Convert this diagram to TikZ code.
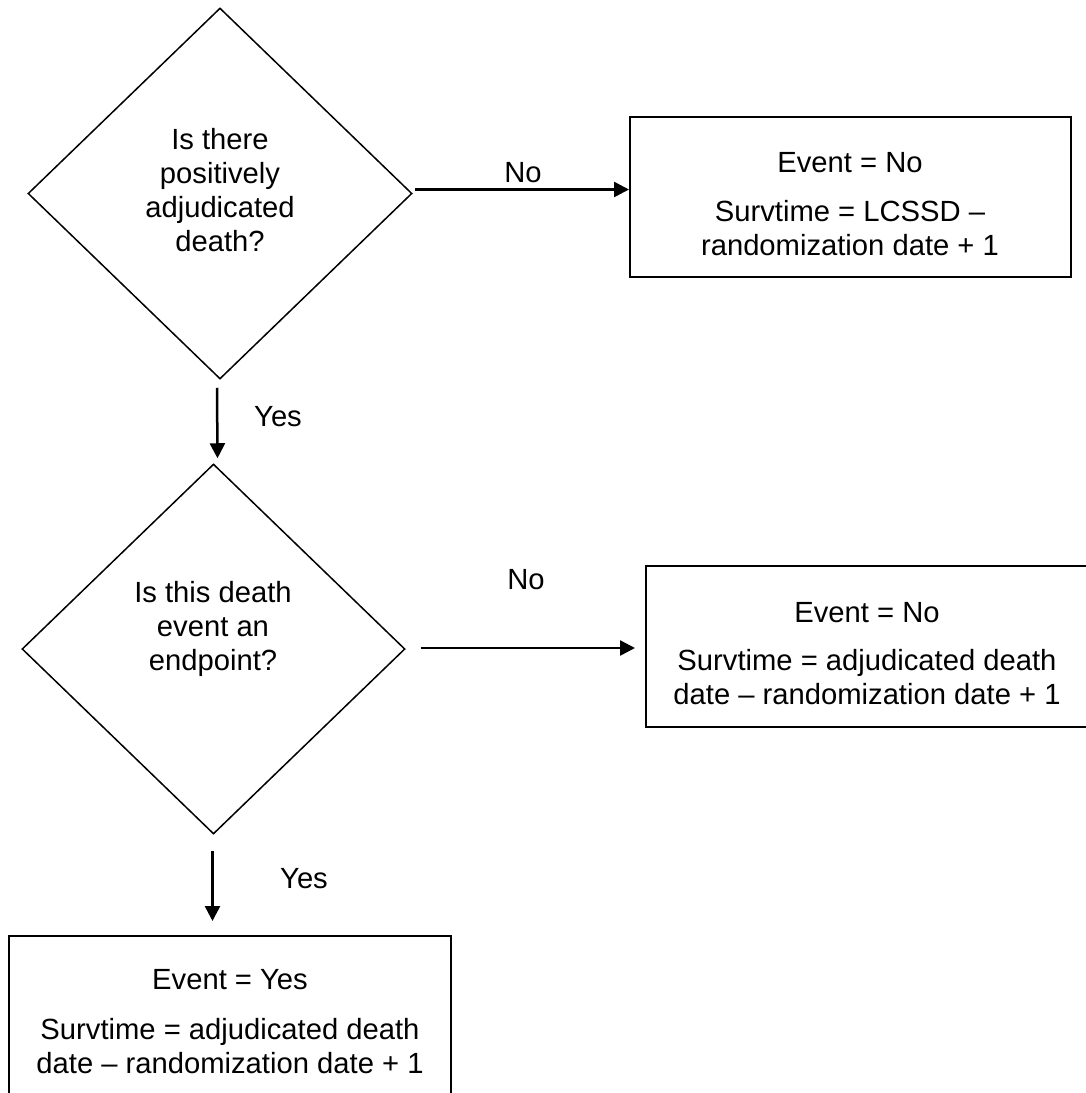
\documentclass[tikz,border=0pt]{standalone}
\usepackage{fontspec}
\setmainfont{Liberation Sans}
\usetikzlibrary{shapes.geometric,arrows.meta,calc}
\begin{document}
\begin{tikzpicture}[x=1pt,y=-1pt,
  lbl/.style={font=\fontsize{29.2}{34}\selectfont, inner sep=0pt, align=center},
  decision/.style={diamond, draw, line width=1.5pt, inner sep=0pt},
  outbox/.style={rectangle, draw, line width=2pt, inner sep=0pt},
  arr/.style={line width=2.5pt, -{Triangle[length=15pt,width=15pt]}}]
\clip (0,0) rectangle (1086,1093);
\fill[white] (0,0) rectangle (1086,1093);
% decisions
\node[decision, minimum width=384, minimum height=371] (d1) at (220,193.5) {};
\node[lbl] (d1t) at (220,190) {Is there\\positively\\adjudicated\\death?};
\node[decision, minimum width=383, minimum height=370] (d2) at (213.5,649) {};
\node[lbl] (d2t) at (213,629) {Is this death\\event an\\endpoint?};
% outcome boxes
\node[outbox, minimum width=441, minimum height=160] (b1) at (850.5,197) {};
\node[lbl] (b1t) at (850,204) {Event = No\\[15pt]Survtime = LCSSD –\\randomization date + 1};
\node[outbox, minimum width=442, minimum height=161] (b2) at (867,646.5) {};
\node[lbl] (b2t) at (867,653.5) {Event = No\\[14pt]Survtime = adjudicated death\\date – randomization date + 1};
\node[outbox, minimum width=442, minimum height=170] (b3) at (230,1021) {};
\node[lbl] (b3t) at (230,1021.5) {Event = Yes\\[16pt]Survtime = adjudicated death\\date – randomization date + 1};
% connectors
\draw[arr] ($(d1.east)+(2,-4)$) -- ($(b1.west |- d1.east)+(0,-4)$);
\node[lbl] (no1) at (523,173) {No};
\draw[arr] ($(d1.south)+(-3,8)$) -- ($(d2.north)+(4,-5)$);
\node[lbl] (yes1) at (278,417) {Yes};
\draw[arr] ($(d2.east)+(15,-1)$) -- ($(b2.west |- d2.east)+(-10,-1)$);
\node[lbl] (no2) at (526,580) {No};
\draw[arr] ($(d2.south)+(-1,16)$) -- ($(d2.south |- b3.north)+(-1,-14)$);
\node[lbl] (yes2) at (304,879) {Yes};
\end{tikzpicture}
\end{document}
